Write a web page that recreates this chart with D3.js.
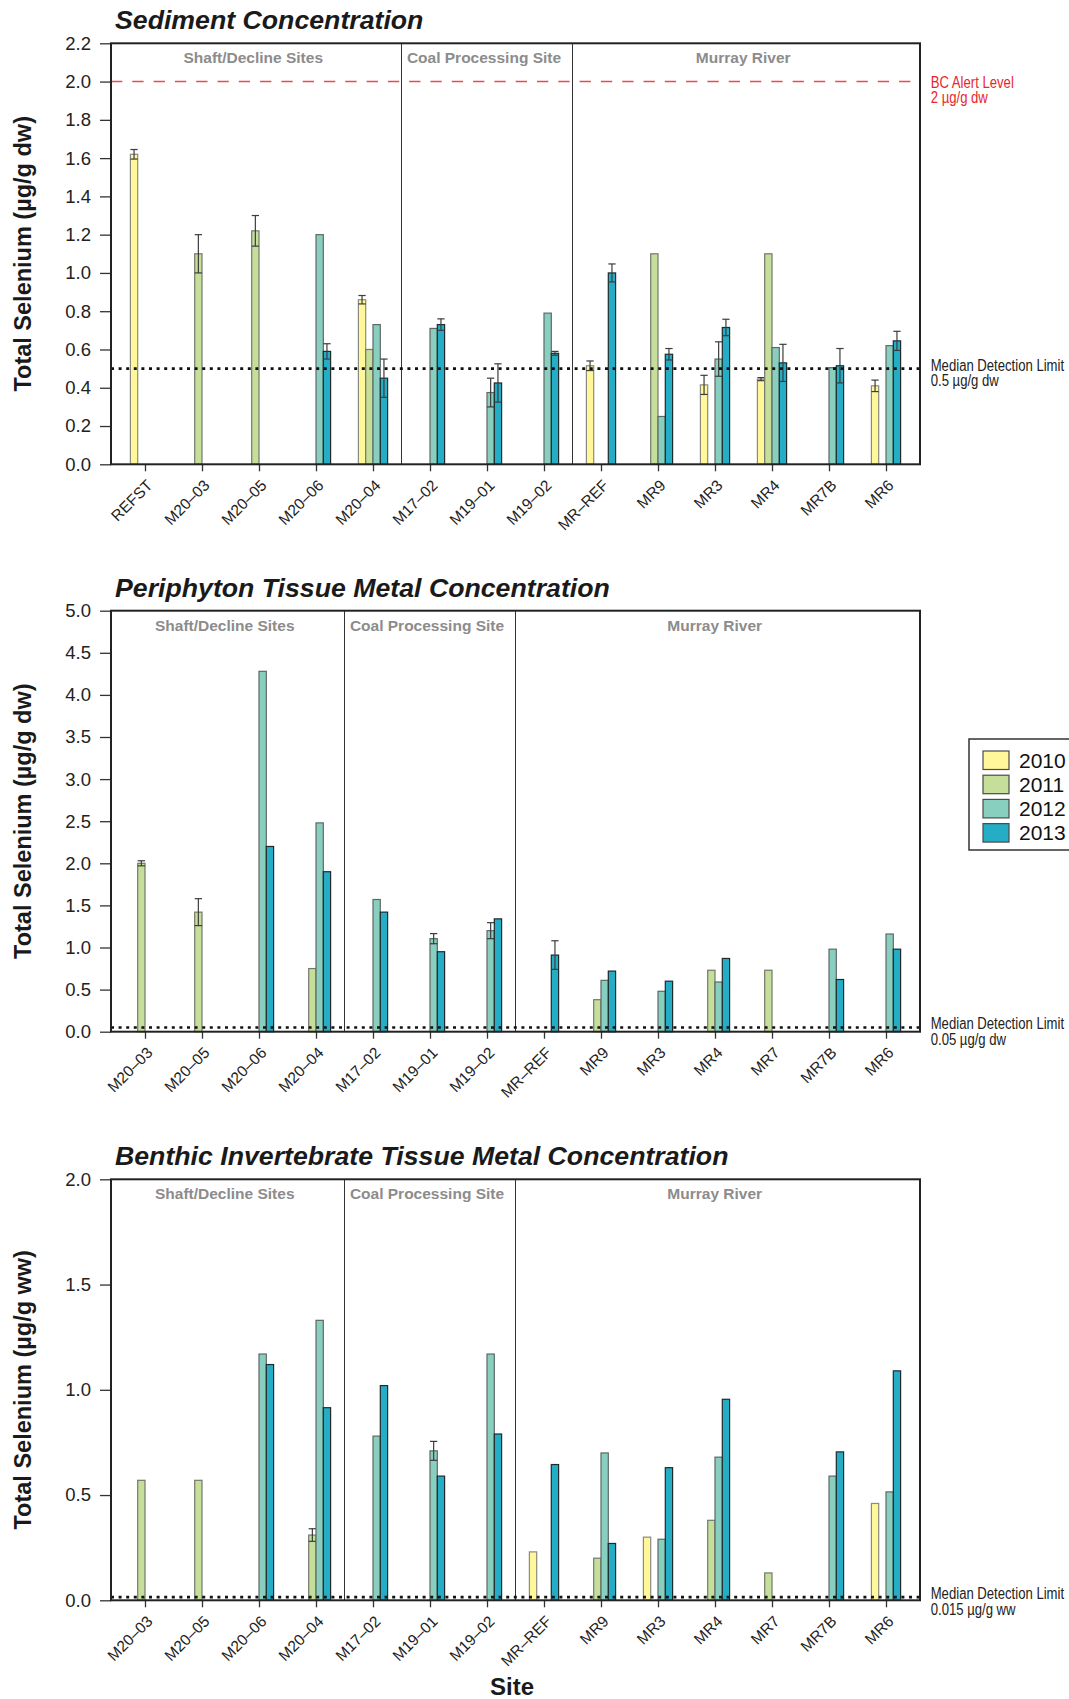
<!DOCTYPE html>
<html>
<head>
<meta charset="utf-8">
<script src="https://cdn.jsdelivr.net/npm/d3@7"></script>
<style>
  body { margin: 0; background: #fff; }
  svg { display: block; font-family: "Liberation Sans", Arial, Helvetica, sans-serif; }
</style>
</head>
<body>
<svg id="chart" width="1069" height="1699"></svg>
<script>
// ---- DATA ----
const years = ["2010", "2011", "2012", "2013"];
const yearColors = ["#fff79a", "#c5df9b", "#89cfbf", "#24adc5"];
const yearStrokes = ["#8a8a80", "#74786c", "#5f6866", "#1f2a2c"];

const groupNames = ["Shaft/Decline Sites", "Coal Processing Site", "Murray River"];

// Sediment
const sedimentSites = ["REFST", "M20–03", "M20–05", "M20–06", "M20–04", "M17–02", "M19–01", "M19–02",
                       "MR–REF", "MR9", "MR3", "MR4", "MR7B", "MR6"];
const sedimentGroups = [0, 0, 0, 0, 0, 1, 1, 1, 2, 2, 2, 2, 2, 2];
const sedimentTicks = [0, 0.2, 0.4, 0.6, 0.8, 1.0, 1.2, 1.4, 1.6, 1.8, 2.0, 2.2];
const sediment2010 = [1.62, null, null, null, 0.86, null, null, null, 0.515, null, 0.415, 0.445, null, 0.41];
const sediment2011 = [null, 1.10, 1.22, null, 0.60, null, null, null, null, 1.10, null, 1.10, null, null];
const sediment2012 = [null, null, null, 1.20, 0.73, 0.71, 0.375, 0.79, null, 0.25, 0.55, 0.61, 0.505, 0.62];
const sediment2013 = [null, null, null, 0.59, 0.45, 0.73, 0.425, 0.58, 1.00, 0.575, 0.715, 0.53, 0.515, 0.645];
const sedimentErr2010 = [0.025, null, null, null, 0.022, null, null, null, 0.025, null, 0.05, 0.008, null, 0.03];
const sedimentErr2011 = [null, 0.10, 0.08, null, null, null, null, null, null, null, null, null, null, null];
const sedimentErr2012 = [null, null, null, null, null, null, 0.075, null, null, null, 0.09, null, null, null];
const sedimentErr2013 = [null, null, null, 0.04, 0.10, 0.03, 0.10, 0.01, 0.047, 0.03, 0.043, 0.097, 0.09, 0.05];
const sedimentDetection = 0.5;
const sedimentAlert = 2.0;

// Periphyton
const tissueSites = ["M20–03", "M20–05", "M20–06", "M20–04", "M17–02", "M19–01", "M19–02",
                     "MR–REF", "MR9", "MR3", "MR4", "MR7", "MR7B", "MR6"];
const tissueGroups = [0, 0, 0, 0, 1, 1, 1, 2, 2, 2, 2, 2, 2, 2];
const periphytonTicks = [0, 0.5, 1.0, 1.5, 2.0, 2.5, 3.0, 3.5, 4.0, 4.5, 5.0];
const periphyton2010 = [null, null, null, null, null, null, null, null, null, null, null, null, null, null];
const periphyton2011 = [2.00, 1.42, null, 0.75, null, null, null, null, 0.38, null, 0.73, 0.73, null, null];
const periphyton2012 = [null, null, 4.28, 2.48, 1.57, 1.105, 1.20, null, 0.61, 0.48, 0.59, null, 0.98, 1.16];
const periphyton2013 = [null, null, 2.20, 1.90, 1.42, 0.95, 1.34, 0.91, 0.72, 0.60, 0.87, null, 0.62, 0.98];
const periphytonErr2011 = [0.03, 0.16, null, null, null, null, null, null, null, null, null, null, null, null];
const periphytonErr2012 = [null, null, null, null, null, 0.06, 0.095, null, null, null, null, null, null, null];
const periphytonErr2013 = [null, null, null, null, null, null, null, 0.17, null, null, null, null, null, null];
const periphytonDetection = 0.05;

// Benthic invertebrates
const benthicTicks = [0, 0.5, 1.0, 1.5, 2.0];
const benthic2010 = [null, null, null, null, null, null, null, 0.23, null, 0.30, null, null, null, 0.46];
const benthic2011 = [0.57, 0.57, null, 0.31, null, null, null, null, 0.20, null, 0.38, 0.13, null, null];
const benthic2012 = [null, null, 1.17, 1.33, 0.78, 0.71, 1.17, null, 0.70, 0.29, 0.68, null, 0.59, 0.515];
const benthic2013 = [null, null, 1.12, 0.915, 1.02, 0.59, 0.79, 0.645, 0.27, 0.63, 0.955, null, 0.705, 1.09];
const benthicErr2011 = [null, null, null, 0.03, null, null, null, null, null, null, null, null, null, null];
const benthicErr2012 = [null, null, null, null, null, 0.045, null, null, null, null, null, null, null, null];
const benthicDetection = 0.015;

const noErr = sedimentSites.map(() => null);

// ---- LAYOUT ----
const svg = d3.select("#chart");
const plotLeft = 111;
const plotWidth = 809;
const plotHeight = 421;

const panels = [
    { title: "Sediment Concentration", top: 43.3, ticks: sedimentTicks, unit: "dw",
      sites: sedimentSites, groups: sedimentGroups,
      values: [sediment2010, sediment2011, sediment2012, sediment2013],
      errors: [sedimentErr2010, sedimentErr2011, sedimentErr2012, sedimentErr2013],
      detection: sedimentDetection, detectionText: "0.5 µg/g dw",
      alert: sedimentAlert, alertText: "2 µg/g dw" },
    { title: "Periphyton Tissue Metal Concentration", top: 610.7, ticks: periphytonTicks, unit: "dw",
      sites: tissueSites, groups: tissueGroups,
      values: [periphyton2010, periphyton2011, periphyton2012, periphyton2013],
      errors: [noErr, periphytonErr2011, periphytonErr2012, periphytonErr2013],
      detection: periphytonDetection, detectionText: "0.05 µg/g dw" },
    { title: "Benthic Invertebrate Tissue Metal Concentration", top: 1179.3, ticks: benthicTicks, unit: "ww",
      sites: tissueSites, groups: tissueGroups,
      values: [benthic2010, benthic2011, benthic2012, benthic2013],
      errors: [noErr, benthicErr2011, benthicErr2012, noErr],
      detection: benthicDetection, detectionText: "0.015 µg/g ww" }
];

// narrow side notes (no condensed font installed, so squeeze regular one)
function sideNote(g, xPos, yPos, lines, color) {
    const t = g.append("text")
        .attr("transform", `translate(${xPos},${yPos}) scale(0.82,1)`)
        .attr("fill", color)
        .style("font-size", "16px");
    lines.forEach((line, i) => {
        t.append("tspan").attr("x", 0).attr("dy", i === 0 ? 0 : 15.5).text(line);
    });
}

panels.forEach(p => {
    const g = svg.append("g").attr("transform", `translate(${plotLeft},${p.top})`);

    const x = d3.scalePoint().domain(p.sites).range([34, plotWidth - 34]);
    const xYear = d3.scaleBand().domain(years).range([-14.6, 14.6]);
    const y = d3.scaleLinear().domain([0, d3.max(p.ticks)]).range([plotHeight, 0]);

    // BARS
    years.forEach((yr, k) => {
        const rows = p.sites.map((s, i) => ({ site: s, v: p.values[k][i], e: p.errors[k][i] }))
            .filter(d => d.v != null);

        g.selectAll(null)
            .data(rows)
            .enter().append("rect")
            .attr("x", d => x(d.site) + xYear(yr))
            .attr("y", d => y(d.v))
            .attr("width", xYear.bandwidth())
            .attr("height", d => plotHeight - y(d.v))
            .attr("fill", yearColors[k])
            .attr("stroke", yearStrokes[k])
            .attr("stroke-width", 1.2);

        // ERROR BARS
        const errs = rows.filter(d => d.e != null);
        const cx = d => x(d.site) + xYear(yr) + xYear.bandwidth() / 2;
        const half = xYear.bandwidth() / 2;
        const eb = g.selectAll(null).data(errs).enter().append("g")
            .attr("stroke", "#3c3c3c").attr("stroke-width", 1.2);
        eb.append("line")
            .attr("x1", cx).attr("x2", cx)
            .attr("y1", d => y(d.v - d.e)).attr("y2", d => y(d.v + d.e));
        eb.append("line")
            .attr("x1", d => cx(d) - half).attr("x2", d => cx(d) + half)
            .attr("y1", d => y(d.v + d.e)).attr("y2", d => y(d.v + d.e));
        eb.append("line")
            .attr("x1", d => cx(d) - half).attr("x2", d => cx(d) + half)
            .attr("y1", d => y(d.v - d.e)).attr("y2", d => y(d.v - d.e));
    });

    // GROUP SEPARATORS + LABELS
    const edges = [0];
    for (let i = 1; i < p.sites.length; i++) {
        if (p.groups[i] !== p.groups[i - 1]) {
            const xm = (x(p.sites[i - 1]) + x(p.sites[i])) / 2;
            edges.push(xm);
            g.append("line")
                .attr("x1", xm).attr("x2", xm)
                .attr("y1", 0).attr("y2", plotHeight)
                .attr("stroke", "#333").attr("stroke-width", 1);
        }
    }
    edges.push(plotWidth);
    groupNames.forEach((name, i) => {
        g.append("text")
            .attr("x", (edges[i] + edges[i + 1]) / 2 - 3)
            .attr("y", 20)
            .attr("text-anchor", "middle")
            .attr("fill", "#8c8c8c")
            .style("font-size", "15.5px")
            .style("font-weight", "bold")
            .text(name);
    });

    // REFERENCE LINES
    if (p.alert != null) {
        g.append("line")
            .attr("x1", 0).attr("x2", plotWidth)
            .attr("y1", y(p.alert)).attr("y2", y(p.alert))
            .attr("stroke", "#ec4a4c").attr("stroke-width", 1.5)
            .attr("stroke-dasharray", "11.3,10");
        sideNote(g, plotWidth + 10.7, y(p.alert) + 6, ["BC Alert Level", p.alertText], "#e8262d");
    }

    g.append("line")
        .attr("x1", 0).attr("x2", plotWidth)
        .attr("y1", y(p.detection)).attr("y2", y(p.detection))
        .attr("stroke", "#111").attr("stroke-width", 2.6)
        .attr("stroke-dasharray", "3,4.6");
    sideNote(g, plotWidth + 10.7, y(p.detection) + 2, ["Median Detection Limit", p.detectionText], "#222");

    // AXES
    const yAxis = g.append("g")
        .call(d3.axisLeft(y).tickValues(p.ticks).tickFormat(d3.format(".1f")).tickSize(11).tickPadding(9));
    yAxis.select(".domain").remove();
    yAxis.selectAll("line").attr("stroke", "#333").attr("stroke-width", 1.3);
    yAxis.selectAll("text").attr("fill", "#222").style("font-size", "18.5px")
        .style("font-family", "'Liberation Sans', Arial, sans-serif");

    const xAxis = g.append("g")
        .attr("transform", `translate(0,${plotHeight})`)
        .call(d3.axisBottom(x).tickSize(7).tickSizeOuter(0));
    xAxis.select(".domain").remove();
    xAxis.selectAll("line").attr("stroke", "#333").attr("stroke-width", 1.3);
    xAxis.selectAll("text")
        .attr("x", 0).attr("y", 0).attr("dy", null)
        .attr("transform", "translate(8,22) rotate(-45)")
        .style("text-anchor", "end")
        .attr("fill", "#222")
        .style("font-size", "15.5px")
        .style("font-family", "'Liberation Sans', Arial, sans-serif");

    // FRAME
    g.append("rect")
        .attr("width", plotWidth).attr("height", plotHeight)
        .attr("fill", "none").attr("stroke", "#222").attr("stroke-width", 2);

    // TITLES
    g.append("text")
        .attr("x", 4).attr("y", -14)
        .attr("fill", "#1a1a1a")
        .style("font-size", "26.7px").style("font-weight", "bold").style("font-style", "italic")
        .text(p.title);

    g.append("text")
        .attr("transform", `translate(${31 - plotLeft},${plotHeight / 2}) rotate(-90)`)
        .attr("text-anchor", "middle")
        .attr("fill", "#1a1a1a")
        .style("font-size", "23.5px").style("font-weight", "bold")
        .text(`Total Selenium (µg/g ${p.unit})`);
});

// X TITLE
svg.append("text")
    .attr("x", 512).attr("y", 1695)
    .attr("text-anchor", "middle")
    .attr("fill", "#1a1a1a")
    .style("font-size", "24px").style("font-weight", "bold")
    .text("Site");

// LEGEND
const legend = svg.append("g").attr("transform", "translate(969,739)");
legend.append("rect")
    .attr("width", 130).attr("height", 111)
    .attr("fill", "#fff").attr("stroke", "#333").attr("stroke-width", 1.5);
years.forEach((yr, k) => {
    legend.append("rect")
        .attr("x", 14).attr("y", 12 + k * 24.2)
        .attr("width", 26).attr("height", 18.5)
        .attr("fill", yearColors[k]).attr("stroke", "#4a4a4a").attr("stroke-width", 1.2);
    legend.append("text")
        .attr("x", 50).attr("y", 12 + k * 24.2 + 9.25)
        .attr("dy", "0.36em")
        .attr("fill", "#111")
        .style("font-size", "21px")
        .text(yr);
});
</script>
</body>
</html>
